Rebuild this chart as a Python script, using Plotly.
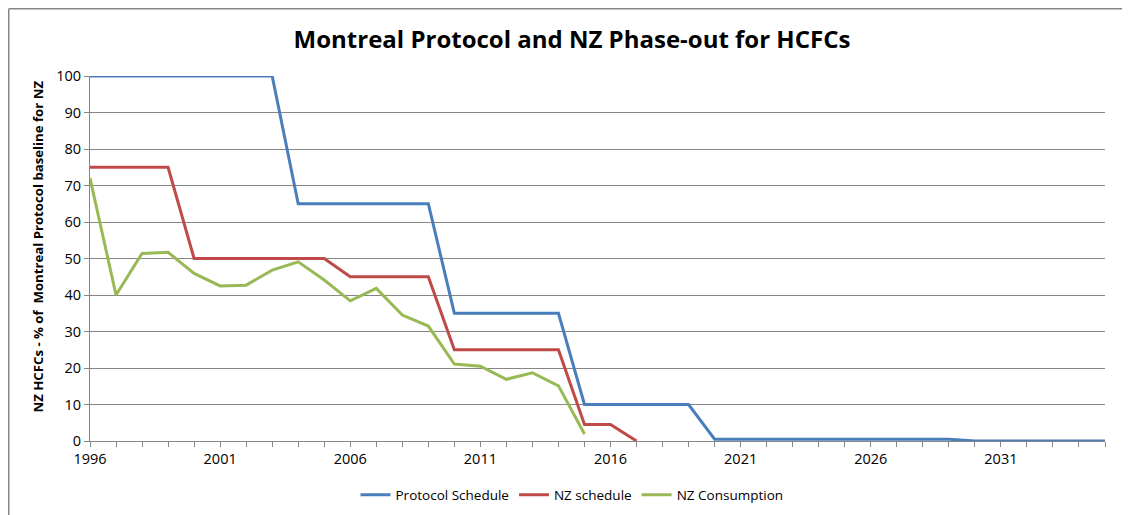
import plotly.graph_objects as go

years = list(range(1996, 2036))

protocol_schedule = [100, 100, 100, 100, 100, 100, 100, 100,
                     65, 65, 65, 65, 65, 65,
                     35, 35, 35, 35, 35,
                     10, 10, 10, 10, 10,
                     0.5, 0.5, 0.5, 0.5, 0.5, 0.5, 0.5, 0.5, 0.5, 0.5,
                     0, 0, 0, 0, 0, 0]

nz_schedule = [75, 75, 75, 75, 50, 50, 50, 50, 50, 50,
               45, 45, 45, 45, 25, 25, 25, 25, 25, 4.5, 4.5, 0]

nz_consumption = [72.0, 40.0, 51.4, 51.7, 45.9, 42.5, 42.7, 46.8, 49.1, 44.1,
                  38.4, 41.8, 34.5, 31.5, 21.1, 20.5, 16.9, 18.7, 15.1, 1.9]

x_tick_years = [1996, 2001, 2006, 2011, 2016, 2021, 2026, 2031]
y_ticks = list(range(0, 101, 10))

title_text = "Montreal Protocol and NZ Phase-out for HCFCs"
y_title = "NZ HCFCs - % of  Montreal Protocol baseline for NZ"

fig = go.Figure()
fig.add_trace(go.Scatter(x=years[:len(protocol_schedule)], y=protocol_schedule,
                         mode="lines", name="Protocol Schedule",
                         line=dict(color="#4a7ebb", width=3)))
fig.add_trace(go.Scatter(x=years[:len(nz_schedule)], y=nz_schedule,
                         mode="lines", name="NZ schedule",
                         line=dict(color="#be4b48", width=3)))
fig.add_trace(go.Scatter(x=years[:len(nz_consumption)], y=nz_consumption,
                         mode="lines", name="NZ Consumption",
                         line=dict(color="#98b954", width=3)))

# page renders with an 8px body margin; figure coords = screen - 8
W, H = 1130, 515
L, R, T, B = 82, 33, 68, 82
pw, ph = W - L - R, H - T - B

fig.update_layout(
    width=W, height=H,
    margin=dict(l=L, r=R, t=T, b=B),
    paper_bgcolor="white", plot_bgcolor="white",
    font=dict(family="Open Sans, Calibri, sans-serif", size=13.5, color="#000000"),
    title=dict(text="<b>" + title_text + "</b>", x=564 / W, xanchor="center",
               y=1 - 32 / H, yanchor="middle",
               font=dict(family="Open Sans, sans-serif", size=24, color="#000000")),
    showlegend=True,
    legend=dict(orientation="h", x=(564 - L) / pw, xanchor="center",
                y=-54 / ph, yanchor="middle",
                font=dict(size=13.5, color="#000000"),
                tracegroupgap=0, traceorder="normal"),
    xaxis=dict(range=[1996, 2035], tickmode="array", tickvals=x_tick_years,
               ticktext=[str(v) for v in x_tick_years],
               showgrid=False, zeroline=False,
               showline=True, linecolor="#868686", linewidth=1,
               ticks="outside", ticklen=5, tickcolor="#868686",
               minor=dict(dtick=1, tick0=1996, ticks="outside", ticklen=5,
                          tickcolor="#868686", showgrid=False),
               tickfont=dict(size=14.5, color="#000000")),
    yaxis=dict(range=[0, 100], tickmode="array", tickvals=y_ticks,
               showgrid=True, gridcolor="#868686", gridwidth=1,
               zeroline=False, showline=True, linecolor="#868686", linewidth=1,
               ticks="outside", ticklen=5, tickcolor="#868686",
               tickfont=dict(size=14.5, color="#000000")),
)

# y-axis title (placed as rotated text, slightly above plot centre like the original)
fig.add_annotation(text="<b>" + y_title + "</b>", textangle=-90,
                   xref="paper", yref="paper",
                   x=(29 - L) / pw, y=1 - (238.5 - T) / ph,
                   xanchor="center", yanchor="middle", showarrow=False,
                   font=dict(size=13.2, color="#000000"))

# outer chart border (top and left edges visible)
bx = (0.75 - L) / pw
by = 1 + (T - 0.75) / ph
fig.add_shape(type="line", xref="paper", yref="paper", x0=bx, x1=1 + (R + 5) / pw,
              y0=by, y1=by, line=dict(color="#868686", width=1.5))
fig.add_shape(type="line", xref="paper", yref="paper", x0=bx, x1=bx,
              y0=by, y1=-(B + 5) / ph, line=dict(color="#868686", width=1.5))

fig.write_html("out.html")
